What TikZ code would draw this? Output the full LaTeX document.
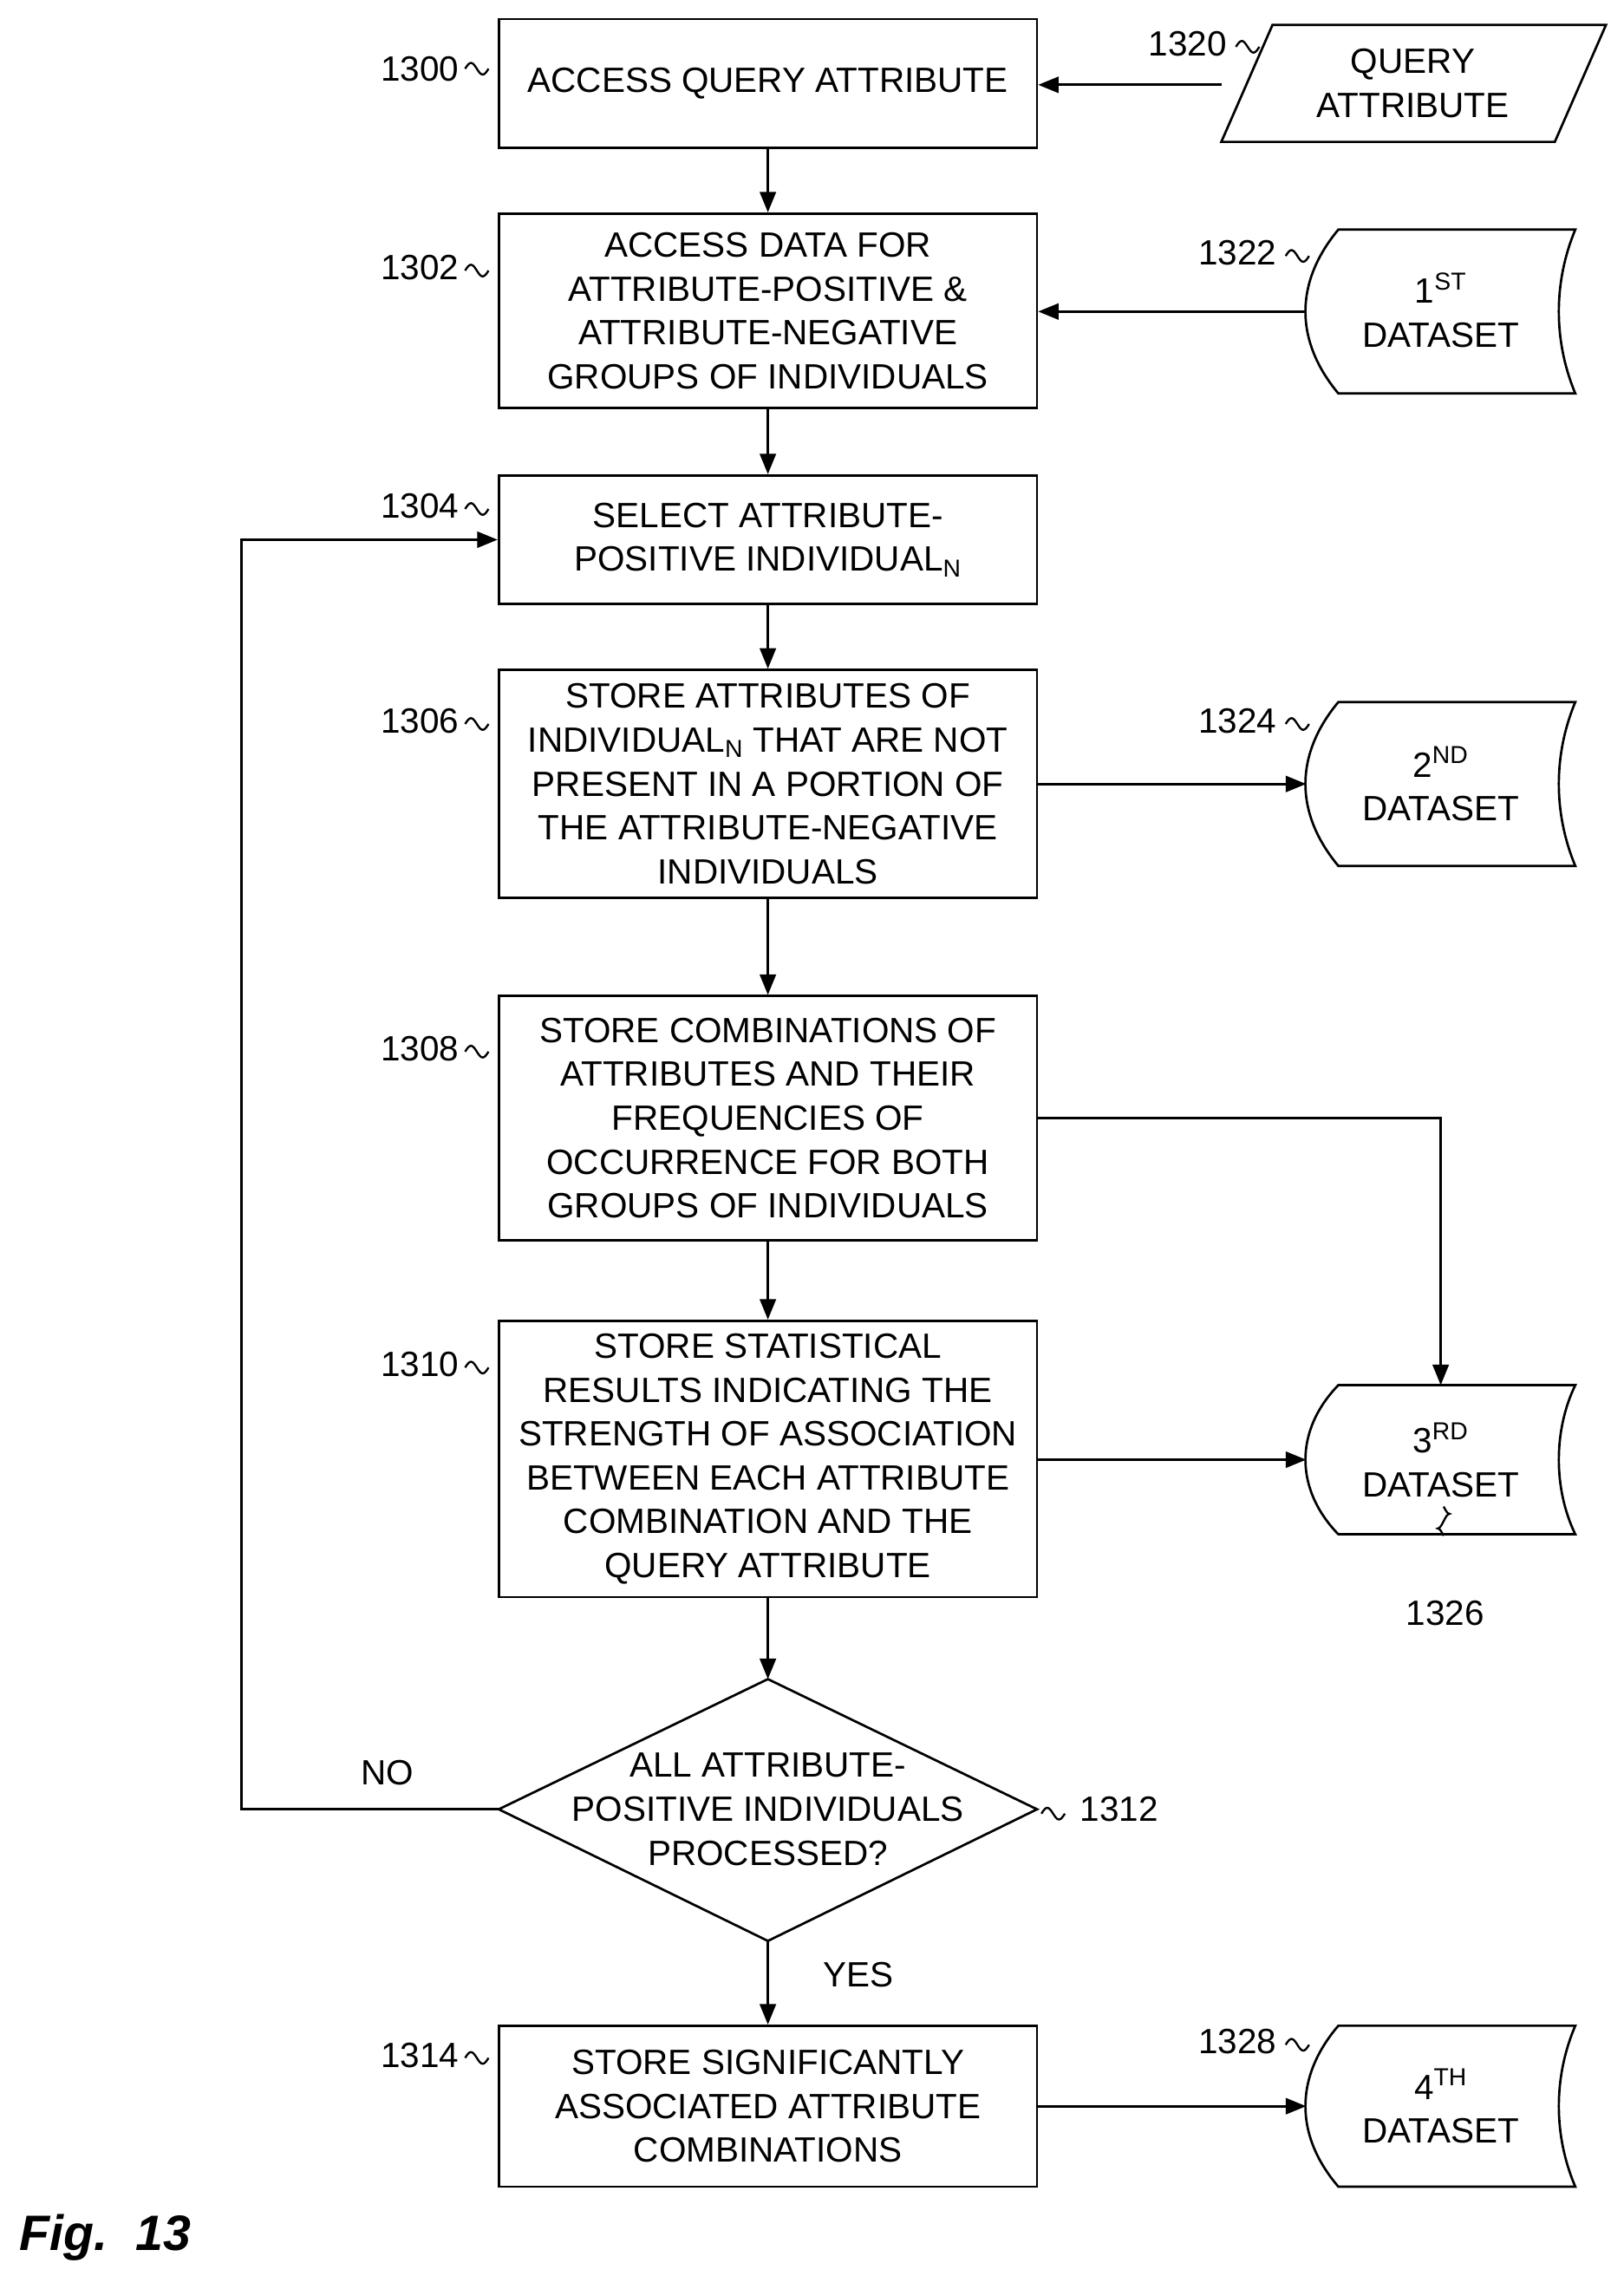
\documentclass[tikz,border=0pt]{standalone}
\usepackage{fontspec}
\setmainfont{Liberation Sans}
\usetikzlibrary{arrows.meta}
\begin{document}
\begin{tikzpicture}[x=1pt,y=1pt,
  box/.style={draw,line width=1.6pt,minimum width=368pt,align=center,inner sep=0pt,font=\fontsize{24}{30}\selectfont},
  lbl/.style={font=\fontsize{24}{30}\selectfont},
  arr/.style={line width=1.6pt,-{Triangle[length=14pt,width=11pt]}},
  sq/.style={line width=1.4pt}]
\useasboundingbox (0,0) rectangle (1110,-1565);
\def\sqg#1{\draw[sq] (#1) sin ++(4,4) cos ++(4,-4) sin ++(4,-4) cos ++(4,4);}
\def\stored#1#2#3{% name, top y, bottom y
  \draw[line width=1.6pt] (915,#2) -- (1077,#2) .. controls (1062,{(#2+#3)/2+20}) and (1062,{(#2+#3)/2-20}) .. (1077,#3) -- (915,#3) .. controls (885,{(#3+#2)/2-20}) and (885,{(#3+#2)/2+20}) .. cycle;
  \coordinate (#1) at (985,{(#2+#3)/2});
  \coordinate (#1w) at (893,{(#2+#3)/2});}
% boxes
\node[box,minimum height=88pt] (b0) at (525,-57) {ACCESS QUERY ATTRIBUTE};
\node[box,minimum height=133pt] (b2) at (525,-212.5) {ACCESS DATA FOR\\ATTRIBUTE-POSITIVE \&\\ATTRIBUTE-NEGATIVE\\GROUPS OF INDIVIDUALS};
\node[box,minimum height=88pt] (b4) at (525,-369) {SELECT ATTRIBUTE-\\POSITIVE INDIVIDUAL\textsubscript{N}};
\node[box,minimum height=156pt] (b6) at (525,-536) {STORE ATTRIBUTES OF\\INDIVIDUAL\textsubscript{N} THAT ARE NOT\\PRESENT IN A PORTION OF\\THE ATTRIBUTE-NEGATIVE\\INDIVIDUALS};
\node[box,minimum height=167pt] (b8) at (525,-764.5) {STORE COMBINATIONS OF\\ATTRIBUTES AND THEIR\\FREQUENCIES OF\\OCCURRENCE FOR BOTH\\GROUPS OF INDIVIDUALS};
\node[box,minimum height=189pt] (b10) at (525,-997.5) {STORE STATISTICAL\\RESULTS INDICATING THE\\STRENGTH OF ASSOCIATION\\BETWEEN EACH ATTRIBUTE\\COMBINATION AND THE\\QUERY ATTRIBUTE};
\coordinate (dt) at (525,-1148); \coordinate (db) at (525,-1327);
\coordinate (dl) at (341,-1237); \coordinate (dr) at (709,-1237);
\draw[line width=1.6pt] (dt) -- (dr) -- (db) -- (dl) -- cycle;
\node[lbl,align=center] (d) at (525,-1237) {ALL ATTRIBUTE-\\POSITIVE INDIVIDUALS\\PROCESSED?};
\node[box,minimum height=110pt] (b14) at (525,-1440) {STORE SIGNIFICANTLY\\ASSOCIATED ATTRIBUTE\\COMBINATIONS};
% query attribute
\draw[line width=1.6pt] (870,-17) -- (1098,-17) -- (1063,-97) -- (835,-97) -- cycle;
\node[lbl,align=center] (q) at (966,-57) {QUERY\\ATTRIBUTE};
\coordinate (qw) at (835,-58);
% datasets
\stored{s1}{-157}{-269}
\stored{s2}{-480}{-592}
\stored{s3}{-947}{-1049}
\stored{s4}{-1385}{-1495}
\node[lbl,align=center] at (985,-212) {1\textsuperscript{ST}\\DATASET};
\node[lbl,align=center] at (985,-536) {2\textsuperscript{ND}\\DATASET};
\node[lbl,align=center] at (985,-998) {3\textsuperscript{RD}\\DATASET};
\node[lbl,align=center] at (985,-1440) {4\textsuperscript{TH}\\DATASET};
% arrows
\draw[arr] (b0.south) -- (b2.north);
\draw[arr] (b2.south) -- (b4.north);
\draw[arr] (b4.south) -- (b6.north);
\draw[arr] (b6.south) -- (b8.north);
\draw[arr] (b8.south) -- (b10.north);
\draw[arr] (b10.south) -- (dt);
\draw[arr] (db) -- (b14.north);
\draw[arr] (qw) -- (b0.east |- qw);
\draw[arr] (s1w) -- (b2.east |- s1w);
\draw[arr] (b6.east) -- (s2w);
\draw[arr] (b8.east) -| (985,-947);
\draw[arr] (b10.east |- s3w) -- (s3w);
\draw[arr] (b14.east) -- (s4w);
\draw[arr] (dl) -- (165,-1237) |- (b4.west);
\node[lbl] at (265,-1212) {NO};
\node[lbl] at (587,-1350) {YES};
% reference labels
\node[lbl] at (287,-47) {1300}; \sqg{318,-47}
\node[lbl] at (287,-183) {1302}; \sqg{318,-185}
\node[lbl] at (287,-346) {1304}; \sqg{318,-348}
\node[lbl] at (287,-493) {1306}; \sqg{318,-495}
\node[lbl] at (287,-717) {1308}; \sqg{318,-719}
\node[lbl] at (287,-933) {1310}; \sqg{318,-935}
\node[lbl] at (287,-1405) {1314}; \sqg{318,-1407}
\node[lbl] at (812,-30) {1320}; \sqg{845,-32}
\node[lbl] at (846,-173) {1322}; \sqg{879,-175}
\node[lbl] at (846,-493) {1324}; \sqg{879,-495}
\node[lbl] at (846,-1396) {1328}; \sqg{879,-1398}
\draw[sq] (712,-1240) sin ++(4,4) cos ++(4,-4) sin ++(4,-4) cos ++(4,4);
\node[lbl,anchor=west] at (735,-1237) {1312};
\draw[sq] (987,-1050) sin ++(-4,5) cos ++(4,5) sin ++(4,5) cos ++(-4,5);
\node[lbl] at (988,-1103) {1326};
\node[font=\fontsize{34}{40}\selectfont\bfseries\itshape,anchor=west] at (10,-1530) {Fig.\ \ 13};
\end{tikzpicture}
\end{document}
